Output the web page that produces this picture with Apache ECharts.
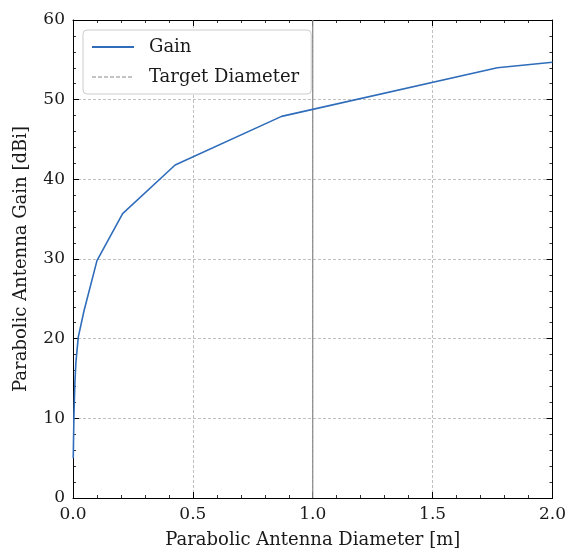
<!DOCTYPE html>
<html>
<head>
<meta charset="utf-8">
<script src="https://cdn.jsdelivr.net/npm/echarts@6/dist/echarts.min.js"></script>
<style>html,body{margin:0;padding:0;background:#fff}#c{width:569px;height:554px}</style>
</head>
<body>
<div id="c"></div>
<script>
const diameters = [0.001, 0.004, 0.008, 0.012, 0.022, 0.046, 0.100, 0.207, 0.426, 0.870, 1.770, 2.000];
const gains     = [5.0,   10.5,  14.5,  17.0,  20.2,  23.5,  29.8,  35.7,  41.8,  47.9,  54.0,  54.7];
const targetDiameter = 1.0;
const xTicks = [0.0, 0.5, 1.0, 1.5, 2.0];
const yTicks = [0, 10, 20, 30, 40, 50, 60];

const FONT = 'DejaVu Serif';
const TXT = '#1a1a1a';
const chart = echarts.init(document.getElementById('c'), null, {renderer: 'canvas'});
const gainData = diameters.map((d, i) => [d, gains[i]]);
const targetData = [[targetDiameter, yTicks[0]], [targetDiameter, yTicks[yTicks.length - 1]]];

const commonX = {
  type: 'value', min: xTicks[0], max: xTicks[xTicks.length - 1], interval: 0.5,
  axisLine: {show: true, onZero: false, lineStyle: {color: '#000', width: 1}},
  axisTick: {show: true, inside: true, length: 6, lineStyle: {color: '#000', width: 1}},
  minorTick: {show: true, splitNumber: 5, length: 3, lineStyle: {color: '#000', width: 0.8}},
};
const commonY = {
  type: 'value', min: yTicks[0], max: yTicks[yTicks.length - 1], interval: 10,
  axisLine: {show: true, onZero: false, lineStyle: {color: '#000', width: 1}},
  axisTick: {show: true, inside: true, length: 6, lineStyle: {color: '#000', width: 1}},
  minorTick: {show: true, splitNumber: 5, length: 3, lineStyle: {color: '#000', width: 0.8}},
};

chart.setOption({
  animation: false,
  backgroundColor: '#fff',
  grid: {left: 73, right: 13, top: 20, bottom: 52, containLabel: false},
  legend: {
    show: true,
    left: 83, top: 30, orient: 'vertical',
    backgroundColor: '#fff', borderColor: '#ccc', borderWidth: 1, borderRadius: 4,
    padding: [8, 12, 8, 8], itemGap: 12, itemWidth: 42, itemHeight: 12,
    textStyle: {fontFamily: FONT, fontSize: 18, color: TXT, padding: [0, 0, 0, 10]},
    data: [
      {name: 'Gain', itemStyle: {opacity: 0}},
      {name: 'Target Diameter', itemStyle: {opacity: 0}, lineStyle: {type: [4, 2], color: '#888', width: 1}}
    ]
  },
  xAxis: [
    Object.assign({}, commonX, {
      position: 'bottom',
      name: 'Parabolic Antenna Diameter [m]', nameLocation: 'middle', nameGap: 33,
      nameTextStyle: {fontFamily: FONT, fontSize: 18, color: TXT},
      axisLabel: {fontFamily: FONT, fontSize: 17, color: TXT, margin: 8,
        formatter: v => v.toFixed(1)},
      splitLine: {show: true, lineStyle: {color: '#b0b0b0', width: 0.8, type: [3, 2]}},
    }),
    Object.assign({}, commonX, {
      position: 'top', axisLabel: {show: false}, splitLine: {show: false}
    })
  ],
  yAxis: [
    Object.assign({}, commonY, {
      position: 'left',
      name: 'Parabolic Antenna Gain [dBi]', nameLocation: 'middle', nameGap: 43,
      nameTextStyle: {fontFamily: FONT, fontSize: 18, color: TXT},
      axisLabel: {fontFamily: FONT, fontSize: 17, color: TXT, margin: 8},
      splitLine: {show: true, lineStyle: {color: '#b0b0b0', width: 0.8, type: [3, 2]}},
    }),
    Object.assign({}, commonY, {
      position: 'right', axisLabel: {show: false}, splitLine: {show: false}
    })
  ],
  series: [
    {
      name: 'Target Diameter', type: 'line', data: targetData,
      symbol: 'none', silent: true,
      lineStyle: {color: '#888', width: 1.2, type: 'solid'}, itemStyle: {color: '#888'}, z: 3
    },
    {
      name: 'Gain', type: 'line', data: gainData,
      symbol: 'none', smooth: false,
      lineStyle: {color: '#2f6dbb', width: 1.6}, itemStyle: {color: '#2f6dbb'}, z: 4
    }
  ]
});
</script>
</body>
</html>
